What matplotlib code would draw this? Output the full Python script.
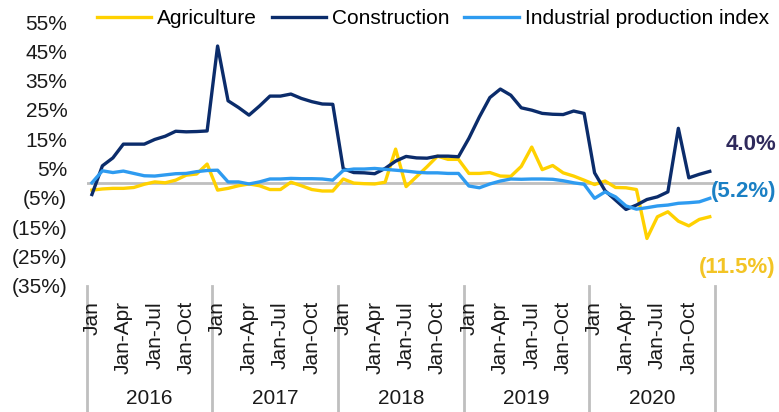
import matplotlib
matplotlib.use("Agg")
import matplotlib.pyplot as plt
import matplotlib.transforms as mtransforms

years = ["2016", "2017", "2018", "2019", "2020"]
month_labels = ["Jan", "", "", "Jan-Apr", "", "", "Jan-Jul", "", "", "Jan-Oct", "", ""]

agriculture = [
    -2.4, -2.0, -1.8, -1.8, -1.5, -0.4, 0.4, 0.1, 1.0, 2.7, 3.1, 6.5,
    -2.4, -1.8, -0.9, -0.3, -0.9, -2.2, -2.2, 0.3, -0.9, -2.2, -2.7, -2.7,
    1.4, 0.0, -0.2, -0.3, 0.3, 11.6, -1.2, 2.2, 5.6, 9.2, 8.1, 8.1,
    3.3, 3.3, 3.6, 2.4, 2.3, 5.7, 12.3, 4.6, 6.0, 3.5, 2.4, 1.0,
    -0.5, 0.7, -1.5, -1.6, -2.2, -18.9, -11.5, -9.8, -13.0, -14.6, -12.4, -11.5,
]
construction = [
    -3.9, 5.9, 8.6, 13.3, 13.3, 13.3, 14.9, 16.0, 17.7, 17.5, 17.6, 17.8,
    46.8, 28.1, 25.8, 23.2, 26.3, 29.7, 29.7, 30.4, 28.9, 27.8, 27.0, 26.9,
    4.9, 3.6, 3.5, 3.2, 5.0, 7.5, 9.1, 8.6, 8.5, 9.2, 9.2, 9.0,
    15.3, 22.6, 29.2, 32.1, 30.0, 25.7, 24.9, 23.8, 23.5, 23.4, 24.6, 23.8,
    3.5, -2.6, -5.8, -9.0, -7.5, -5.6, -4.7, -3.0, 18.7, 1.8, 3.0, 4.0,
]
industrial = [
    0.1, 4.2, 3.6, 4.1, 3.3, 2.5, 2.4, 2.8, 3.2, 3.3, 3.9, 4.3,
    4.4, 0.4, 0.4, -0.3, 0.4, 1.4, 1.4, 1.6, 1.5, 1.5, 1.4, 1.0,
    4.3, 4.8, 4.8, 5.0, 4.7, 4.4, 4.1, 3.7, 3.5, 3.5, 3.3, 3.3,
    -1.0, -1.6, -0.3, 0.7, 1.4, 1.3, 1.4, 1.4, 1.3, 0.8, 0.1, -0.4,
    -5.2, -3.0, -4.7, -7.8, -8.9, -8.4, -7.8, -7.5, -6.9, -6.7, -6.4, -5.2,
]
end_labels = ["4.0%", "(5.2%)", "(11.5%)"]
y_ticks = [-35, -25, -15, -5, 5, 15, 25, 35, 45, 55]

C_AGR = "#FFD100"
C_CON = "#0B2C6B"
C_IND = "#2E9BF0"
GRAY = "#BFBFBF"
TXT = "#1a1a1a"

plt.rcParams["font.family"] = ["Liberation Sans", "DejaVu Sans"]

W, H = 779, 412
fig = plt.figure(figsize=(W / 100, H / 100), dpi=100)
left, right, top, bottom = 86.7, 715.0, 22.0, 285.6
ax = fig.add_axes([left / W, 1 - bottom / H, (right - left) / W, (bottom - top) / H])

n = len(agriculture)
x = list(range(n))
ax.axhline(0, color=GRAY, lw=2, zorder=1)
l1, = ax.plot(x, agriculture, color=C_AGR, lw=2.4, label="Agriculture", zorder=3)
l2, = ax.plot(x, construction, color=C_CON, lw=2.4, label="Construction", zorder=3)
l3, = ax.plot(x, industrial, color=C_IND, lw=2.4, label="Industrial production index", zorder=3)

ax.set_xlim(-0.5, n - 0.5)
ax.set_ylim(-35, 55)
ax.set_yticks(y_ticks)
ax.set_yticklabels([f"{v}%" if v > 0 else f"({-v}%)" for v in y_ticks])
ax.tick_params(axis="y", length=0, pad=14, labelsize=15, labelcolor=TXT)

ax.set_xticks(x)
ax.set_xticklabels(month_labels * len(years), rotation=90)
ax.tick_params(axis="x", length=0, pad=11, labelsize=15, labelcolor=TXT)
ax.xaxis.set_zorder(5)

for s in ax.spines.values():
    s.set_visible(False)

trans = mtransforms.blended_transform_factory(ax.transData, ax.transAxes)
for k in range(len(years) + 1):
    bx = k * 12 - 0.5
    ax.plot([bx, bx], [0, -0.5], transform=trans, color=GRAY, lw=2,
            clip_on=False, zorder=0.5)
for k, yr in enumerate(years):
    ax.text(k * 12 + 5.5, -0.428, yr, transform=trans, ha="center", va="center",
            fontsize=15, color=TXT)

fig.legend(handles=[l1, l2, l3], loc="center left",
           bbox_to_anchor=(97 / W, 1 - 19 / H), ncol=3, frameon=False,
           fontsize=15, handlelength=2.6, handletextpad=0.3, columnspacing=0.7,
           borderaxespad=0, borderpad=0)

label_cols = ["#2F2A5C", "#1B80C4", "#F3C425"]
label_y = [145, 192, 268]
for txt, c, yy in zip(end_labels, label_cols, label_y):
    fig.text(776 / W, 1 - yy / H, txt, ha="right", va="center", fontsize=16,
             fontweight="bold", color=c)

fig.savefig("out.png", dpi=100)
